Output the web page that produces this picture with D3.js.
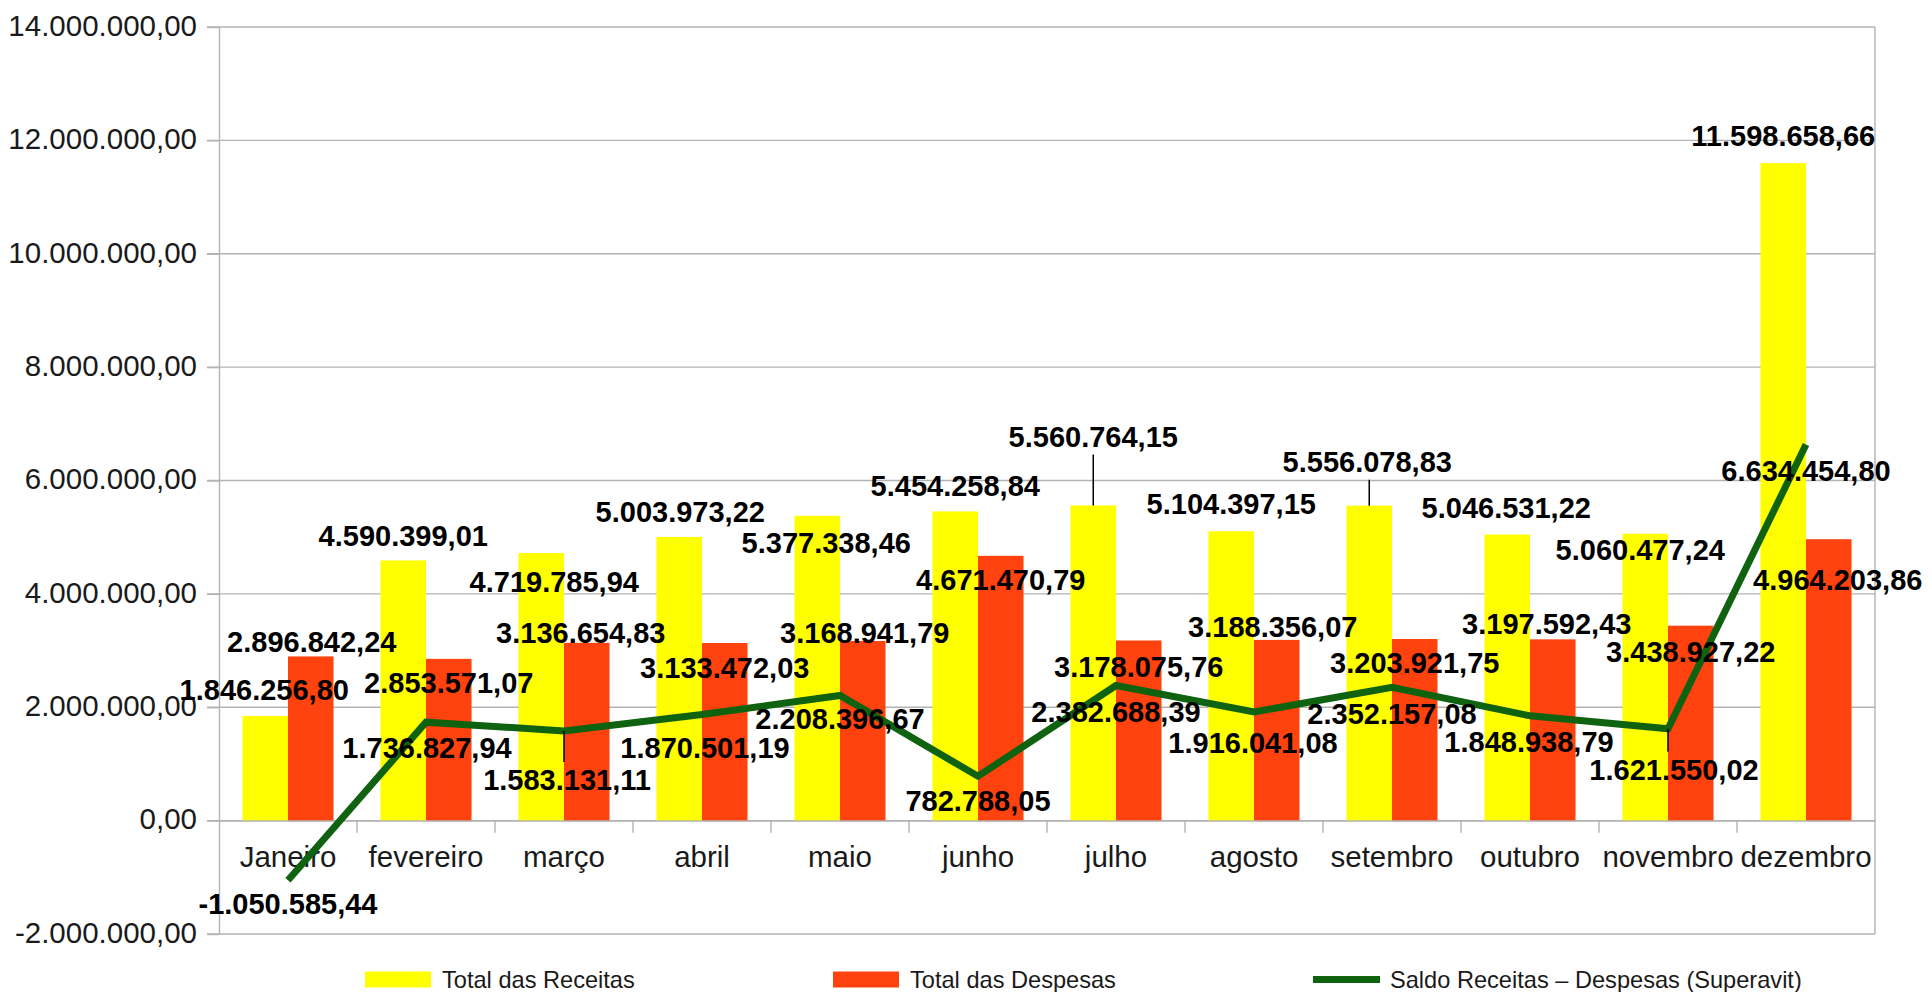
<!DOCTYPE html>
<html>
<head>
<meta charset="utf-8">
<script src="https://cdn.jsdelivr.net/npm/d3@7"></script>
<style>
  html, body { margin: 0; padding: 0; background: #ffffff; }
  svg { display: block; }
  text { font-family: "Liberation Sans", Arial, sans-serif; }
</style>
</head>
<body>
<svg id="chart" width="1932" height="992"></svg>
<script>
// ---------- data ----------
const months = ["Janeiro", "fevereiro", "março", "abril", "maio", "junho",
                "julho", "agosto", "setembro", "outubro", "novembro", "dezembro"];
const receitas = [1846256.80, 4590399.01, 4719785.94, 5003973.22, 5377338.46, 5454258.84,
                  5560764.15, 5104397.15, 5556078.83, 5046531.22, 5060477.24, 11598658.66];
const despesas = [2896842.24, 2853571.07, 3136654.83, 3133472.03, 3168941.79, 4671470.79,
                  3178075.76, 3188356.07, 3203921.75, 3197592.43, 3438927.22, 4964203.86];
const saldo = [-1050585.44, 1736827.94, 1583131.11, 1870501.19, 2208396.67, 782788.05,
               2382688.39, 1916041.08, 2352157.08, 1848938.79, 1621550.02, 6634454.80];
const yTicks = [-2000000, 0, 2000000, 4000000, 6000000, 8000000, 10000000, 12000000, 14000000];
const seriesNames = ["Total das Receitas", "Total das Despesas", "Saldo Receitas – Despesas (Superavit)"];

// ---------- label placement (layout, pixel offsets from each mark's anchor) ----------
const recLabelOffset  = [[-1,-26],[0,-25],[13,29],[1,-25],[9,27],[0,-26],[0,-69],[0,-28],[-2,-44],[-1,-27],[-5,16],[0,-28]];
const despLabelOffset = [[1,-15],[0,24],[-6,-10],[0,25],[2,-8],[0,24],[0,26],[-4,-13],[0,24],[-6,-16],[0,26],[9,40]];
const saldoLabelOffset = [[0,23],[1,25],[3,49],[3,33],[0,23],[0,24],[0,26],[-1,31],[0,26],[-1,26],[6,41],[0,26]];
const recLeader = [false,false,false,false,false,false,true,false,true,false,false,false];
const saldoLeader = [false,false,true,false,false,false,false,false,false,false,true,false];

// ---------- styles ----------
const colRec = "#ffff00", colDesp = "#ff420e", colSaldo = "#0f620f";
const gridCol = "#b3b3b3", textCol = "#1a1a1a";

const locale = d3.formatLocale({decimal: ",", thousands: ".", grouping: [3], currency: ["R$", ""], minus: "-"});
const fmt = locale.format(",.2f");

const svg = d3.select("#chart");
const plot = {left: 219, right: 1875, top: 27, bottom: 934};

const x0 = d3.scaleBand().domain(months).range([plot.left, plot.right]).paddingInner(0).paddingOuter(0);
const x1 = d3.scaleBand().domain(["rec", "desp"]).range([0, x0.bandwidth()]).paddingInner(0).paddingOuter(0.516);
const y = d3.scaleLinear().domain([-2000000, 14000000]).range([plot.bottom, plot.top]);
const cx = m => x0(m) + x0.bandwidth() / 2;

// gridlines
svg.append("g").selectAll("line").data(yTicks).join("line")
  .attr("x1", plot.left - 12).attr("x2", plot.right)
  .attr("y1", d => y(d)).attr("y2", d => y(d))
  .attr("stroke", gridCol).attr("stroke-width", 1.4);

// right border
svg.append("line").attr("x1", plot.right).attr("x2", plot.right)
  .attr("y1", plot.top).attr("y2", plot.bottom)
  .attr("stroke", gridCol).attr("stroke-width", 1.4);

// bars
const bars = svg.append("g");
bars.selectAll("rect.rec").data(receitas).join("rect").attr("class", "rec")
  .attr("x", (d, i) => x0(months[i]) + x1("rec"))
  .attr("width", x1.bandwidth())
  .attr("y", d => y(d)).attr("height", d => y(0) - y(d))
  .attr("fill", colRec);
bars.selectAll("rect.desp").data(despesas).join("rect").attr("class", "desp")
  .attr("x", (d, i) => x0(months[i]) + x1("desp"))
  .attr("width", x1.bandwidth())
  .attr("y", d => y(d)).attr("height", d => y(0) - y(d))
  .attr("fill", colDesp);

// y axis
const yAxis = svg.append("g").attr("transform", `translate(${plot.left},0)`)
  .call(d3.axisLeft(y).tickValues(yTicks).tickFormat(fmt).tickSize(12).tickSizeOuter(0).tickPadding(10));
yAxis.select(".domain").attr("stroke", gridCol).attr("stroke-width", 1.4);
yAxis.selectAll(".tick line").attr("stroke", gridCol).attr("stroke-width", 1.4);
yAxis.selectAll(".tick text").attr("fill", textCol).attr("font-size", 29.5)
  .attr("font-family", "Liberation Sans, Arial, sans-serif").attr("dy", "0.28em");

// x axis (labels at centers)
const xAxis = svg.append("g").attr("transform", `translate(0,${y(0)})`)
  .call(d3.axisBottom(x0).tickSize(0).tickSizeOuter(0).tickPadding(25));
xAxis.select(".domain").attr("stroke", gridCol).attr("stroke-width", 1.4);
xAxis.selectAll(".tick text").attr("fill", textCol).attr("font-size", 29.5)
  .attr("font-family", "Liberation Sans, Arial, sans-serif");
// x ticks at category boundaries
svg.append("g").selectAll("line").data(months.slice(1)).join("line")
  .attr("x1", d => x0(d)).attr("x2", d => x0(d))
  .attr("y1", y(0)).attr("y2", y(0) + 12)
  .attr("stroke", gridCol).attr("stroke-width", 1.4);

// saldo line
const line = d3.line().x((d, i) => cx(months[i])).y(d => y(d));
svg.append("path").datum(saldo).attr("d", line)
  .attr("fill", "none").attr("stroke", colSaldo).attr("stroke-width", 7)
  .attr("stroke-linejoin", "miter");

// data labels
const lab = svg.append("g").attr("font-weight", "bold").attr("font-size", 29)
  .attr("fill", "#000").attr("text-anchor", "middle");

function labels(values, anchorX, offsets, leaders) {
  values.forEach((v, i) => {
    const ax = anchorX(i), ay = y(v);
    const lx = ax + offsets[i][0], ly = ay + offsets[i][1];
    if (leaders && leaders[i]) {
      const end = offsets[i][1] < 0 ? ly + 18 : ly - 18;
      lab.append("line").attr("x1", ax).attr("x2", ax).attr("y1", ay).attr("y2", end)
        .attr("stroke", "#000").attr("stroke-width", 1.5);
    }
    lab.append("text").attr("x", lx).attr("y", ly + 10.4).text(fmt(v));
  });
}
labels(receitas, i => x0(months[i]) + x1("rec") + x1.bandwidth() / 2, recLabelOffset, recLeader);
labels(despesas, i => x0(months[i]) + x1("desp") + x1.bandwidth() / 2, despLabelOffset, null);
labels(saldo, i => cx(months[i]), saldoLabelOffset, saldoLeader);

// legend
const legY = 979.5;
const legX = [365, 833, 1313];
const leg = svg.append("g");
seriesNames.forEach((name, i) => {
  if (i < 2) {
    leg.append("rect").attr("x", legX[i]).attr("y", legY - 8).attr("width", 66).attr("height", 16)
      .attr("fill", i === 0 ? colRec : colDesp);
  } else {
    leg.append("line").attr("x1", legX[i]).attr("x2", legX[i] + 67).attr("y1", legY).attr("y2", legY)
      .attr("stroke", colSaldo).attr("stroke-width", 7);
  }
  leg.append("text").attr("x", legX[i] + 77).attr("y", legY + 8.3)
    .attr("font-size", 23.6).attr("fill", textCol).text(name);
});
</script>
</body>
</html>
